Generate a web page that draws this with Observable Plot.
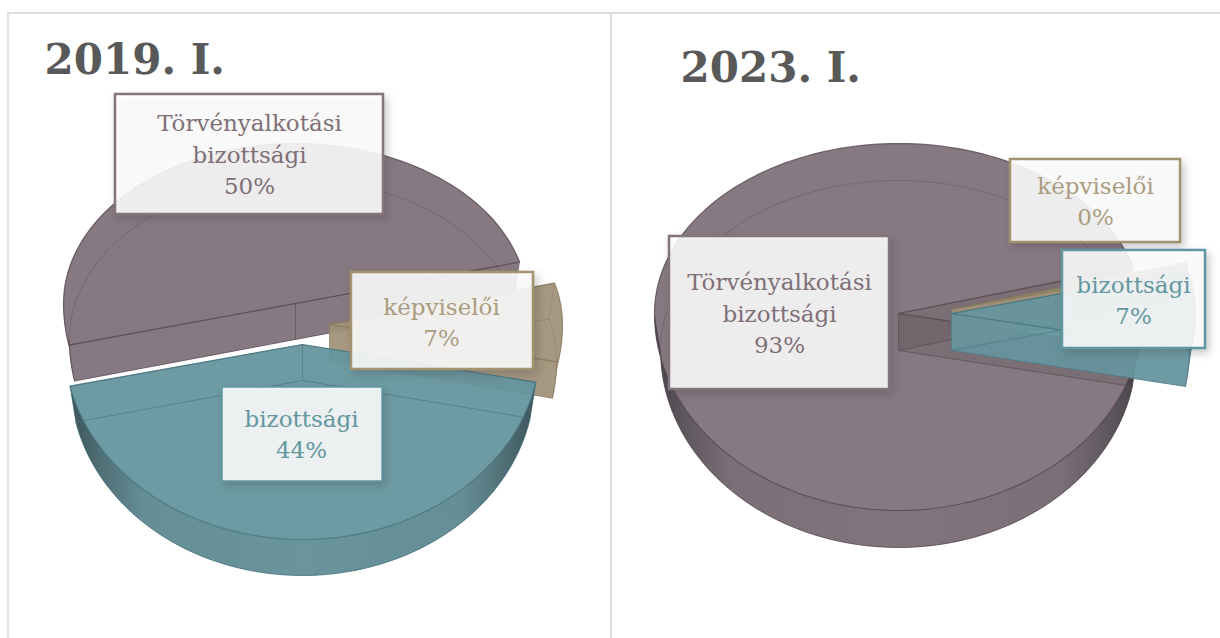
<!DOCTYPE html>
<html>
<head>
<meta charset="utf-8">
<script src="https://cdn.jsdelivr.net/npm/d3@7"></script>
<script src="https://cdn.jsdelivr.net/npm/@observablehq/plot@0.6"></script>
<style>
html,body{margin:0;padding:0;background:#fff;overflow:hidden}
svg{display:block}
</style>
</head>
<body>
<div id="chart"></div>
<script>
const categories = ["képviselői", "bizottsági", "Törvényalkotási\nbizottsági"];
const values2019 = [7.3, 43.7, 49.5];
const values2023 = [0.4, 7, 93];
const shownPercent2019 = ["7%", "44%", "50%"];
const shownPercent2023 = ["0%", "7%", "93%"];
const titles = ["2019. I.", "2023. I."];

const W = 1220, H = 638;
const fills = ["#a1927a", "#66959e", "#80717a"];
const lines = ["#8a7a5c", "#47747e", "#57474f"];
const inks = ["#ab9c80", "#62979f", "#7f6f77"];
const borders = ["#a3936f", "#5f98a3", "#84757d"];

const pies = [
  {values: values2019, percents: shownPercent2019, start: -15, rx: [233, 238, 232], ryBack: 160, ryFront: 195, depth: 36,
   centers: [[329, 324], [302, 344], [295, 303]],
   boxes: [[351, 272, 533, 369], [222, 387, 382, 481], [115, 94, 383, 214]],
   textX: [441, 301, 249], textY: [320, 432, 152], title: [44, 73], wallShade: 0},
  {values: values2023, percents: shownPercent2023, start: -16, rx: [244, 244, 244], ryBack: 170, ryFront: 197, depth: 37,
   centers: [[951, 309], [951, 313], [898, 313]],
   boxes: [[1010, 159, 1180, 242], [1062, 250, 1205, 348], [669, 236, 889, 389]],
   textX: [1095, 1133, 779], textY: [199, 298, 311], title: [680, 81], wallShade: 0.22}
];

function pt(c, p, rx, t, lower) {
  const r = t * Math.PI / 180, s = Math.sin(r);
  const k = lower ? 0.975 : 1;
  return {x: c[0] + rx * k * Math.cos(r), y: c[1] + (lower ? p.depth : 0) + (s > 0 ? p.ryFront : p.ryBack) * s};
}
function arc(c, p, rx, a, b, lower) {
  const n = Math.max(2, Math.ceil(Math.abs(b - a) / 2)), out = [];
  for (let i = 0; i <= n; i++) out.push(pt(c, p, rx, a + (b - a) * i / n, lower));
  return out;
}
const tag = (pts, id) => pts.map(d => ({...d, id}));
// a slice is painted as one translucent body, so its faces do not add up where they overlap
const bodyOpacity = (index, scales, values, dims, ctx, next) => {
  const g = next(index, scales, values, dims, ctx);
  g.setAttribute("opacity", 0.94);
  return g;
};

const marks = [];
marks.push(() => {
  const defs = d3.create("svg:defs");
  const g = defs.append("linearGradient").attr("id", "side").attr("x1", 0).attr("x2", 1).attr("y1", 0).attr("y2", 0);
  [[0, .55], [.06, .36], [.16, .1], [.5, .05], [.84, .1], [.94, .36], [1, .55]].forEach(([o, a]) =>
    g.append("stop").attr("offset", o).attr("stop-color", "#15191e").attr("stop-opacity", a));
  return defs.node();
});

// frame
marks.push(Plot.ruleY([12.5], {x1: 7, x2: W, stroke: "#dddddd", strokeWidth: 2}));
marks.push(Plot.ruleX([7.5], {y1: 12, y2: H, stroke: "#dddddd", strokeWidth: 1.5}));
marks.push(Plot.ruleX([610.5], {y1: 12, y2: H, stroke: "#dddddd", strokeWidth: 2}));

pies.forEach((p, pi) => {
  const total = d3.sum(p.values);
  let a = p.start;
  const order = [2, 0, 1]; // paint order: back slice first
  const spans = p.values.map(v => { const s = [a, a + v / total * 360]; a = s[1]; return s; });
  order.forEach(i => {
    const c = p.centers[i], [a0, a1] = spans[i], rx = p.rx[i];
    const c0 = {x: c[0], y: c[1]}, c1 = {x: c[0], y: c[1] + p.depth};
    const up = [c0, ...arc(c, p, rx, a0, a1, false), c0];
    const lo = [c1, ...arc(c, p, rx, a0, a1, true), c1];
    const wall0 = [c0, pt(c, p, rx, a0, false), pt(c, p, rx, a0, true), c1, c0];
    const wall1 = [c0, pt(c, p, rx, a1, false), pt(c, p, rx, a1, true), c1, c0];
    // visible front part of the rim
    const from = Math.max(a0, 0), to = Math.min(a1, 180);
    let rim = [];
    if (to > from) rim = [...arc(c, p, rx, from, to, false), ...arc(c, p, rx, to, from, true)];
    const shapes = [
      ...tag(lo, "lo"), ...tag(wall0, "w0"), ...tag(wall1, "w1"), ...tag(rim, "rim"), ...tag(up, "up")
    ];
    marks.push(Plot.line(shapes, {x: "x", y: "y", z: "id", fill: fills[i], stroke: "none", render: bodyOpacity}));
    if (i === 2 && p.wallShade > 0) {
      marks.push(Plot.line([...tag(wall0, "w0"), ...tag(wall1, "w1")], {
        x: "x", y: "y", z: "id", fill: lines[i], fillOpacity: p.wallShade, stroke: "none"
      }));
    }
    if (to - from > 60) {
      marks.push(Plot.line(rim.concat(rim[0]), {x: "x", y: "y", fill: "url(#side)", stroke: "none"}));
    }
    marks.push(Plot.line([...tag(lo, "lo"), ...tag(wall0, "w0"), ...tag(wall1, "w1")], {
      x: "x", y: "y", z: "id", stroke: lines[i], strokeWidth: 1, strokeOpacity: 0.35
    }));
    marks.push(Plot.line(up, {x: "x", y: "y", stroke: lines[i], strokeWidth: 1.2, strokeOpacity: 0.8}));
    if (rim.length) {
      marks.push(Plot.line(arc(c, p, rx, from, to, true), {x: "x", y: "y", stroke: lines[i], strokeWidth: 1, strokeOpacity: 0.5}));
    }
  });
});

pies.forEach((p, pi) => {
  [2, 0, 1].forEach(i => {
    const b = p.boxes[i];
    marks.push(Plot.rect([b], {
      x1: d => d[0], y1: d => d[1], x2: d => d[2], y2: d => d[3],
      fill: "white", fillOpacity: 0.88, stroke: borders[i], strokeWidth: i === 1 && pi === 0 ? 1.5 : 2.5,
      imageFilter: "drop-shadow(3px 4px 4px rgba(60,60,70,.3))"
    }));
    marks.push(Plot.text([categories[i] + "\n" + p.percents[i]], {
      x: () => p.textX[i], y: () => p.textY[i], text: d => d,
      fontFamily: "'DejaVu Serif', serif", fontSize: 23, lineHeight: 1.36, fill: inks[i],
      textAnchor: "middle", lineAnchor: "middle"
    }));
  });
  marks.push(Plot.text([titles[pi]], {
    x: () => p.title[0], y: () => p.title[1], text: d => d,
    fontFamily: "'DejaVu Serif', serif", fontWeight: "bold", fontSize: 42, fill: "#595959",
    textAnchor: "start", lineAnchor: "bottom"
  }));
});

const chart = Plot.plot({
  width: W, height: H, margin: 0,
  x: {domain: [0, W], range: [0, W], axis: null},
  y: {domain: [0, H], range: [0, H], axis: null},
  style: {background: "#ffffff"},
  marks
});
document.getElementById("chart").append(chart);
</script>
</body>
</html>
